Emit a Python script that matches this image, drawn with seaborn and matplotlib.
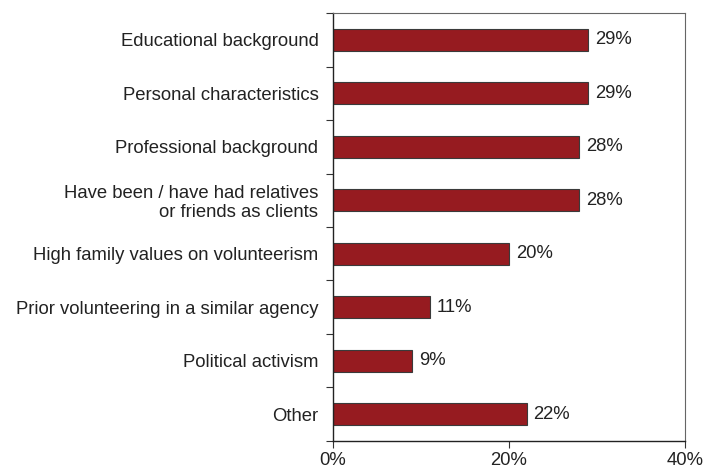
import matplotlib
matplotlib.use("Agg")
import matplotlib.pyplot as plt
import seaborn as sns
import numpy as np
import pandas as pd

categories = [
    "Educational background",
    "Personal characteristics",
    "Professional background",
    "Have been / have had relatives\nor friends as clients",
    "High family values on volunteerism",
    "Prior volunteering in a similar agency",
    "Political activism",
    "Other",
]
values = [29, 29, 28, 28, 20, 11, 9, 22]
x_ticks = [0, 20, 40]
x_tick_labels = ["0%", "20%", "40%"]

sns.set_theme(style="white")
plt.rcParams["font.family"] = ["Liberation Sans", "DejaVu Sans"]

df = pd.DataFrame({"category": categories, "value": values})

fig = plt.figure(figsize=(7.04, 4.68), dpi=100)
ax = fig.add_axes([0.473, 0.058, 0.500, 0.914])

sns.barplot(data=df, x="value", y="category", orient="h", color="#961B20",
            saturation=1, width=0.41, edgecolor="#3a3a3a", linewidth=0.8, ax=ax)

for i, v in enumerate(values):
    ax.annotate(f"{v}%", xy=(v, i), xytext=(5, 0), textcoords="offset points",
                va="center", ha="left", fontsize=13.3, color="#222222")

ax.set_xlim(0, 40)
ax.set_ylim(len(categories) - 0.5, -0.5)
ax.set_xticks(x_ticks)
ax.set_xticklabels(x_tick_labels, fontsize=13.3, color="#222222")
ax.set_yticks(range(len(categories)))
ax.set_yticklabels(categories, fontsize=13.3, color="#222222", linespacing=1.1)
ax.set_yticks(np.arange(-0.5, len(categories) + 0.5, 1), minor=True)
ax.tick_params(axis="y", which="major", length=0, pad=10.5)
ax.tick_params(axis="y", which="minor", length=5, width=0.8, color="#333333", direction="out", left=True)
ax.tick_params(axis="x", which="major", length=5, width=0.8, color="#333333", direction="out", bottom=True, pad=3)
ax.set_xlabel("")
ax.set_ylabel("")

for side in ["left", "bottom"]:
    ax.spines[side].set_color("#222222")
    ax.spines[side].set_linewidth(1.0)
for side in ["top", "right"]:
    ax.spines[side].set_color("#666666")
    ax.spines[side].set_linewidth(0.8)

fig.savefig("out.png", dpi=100)
